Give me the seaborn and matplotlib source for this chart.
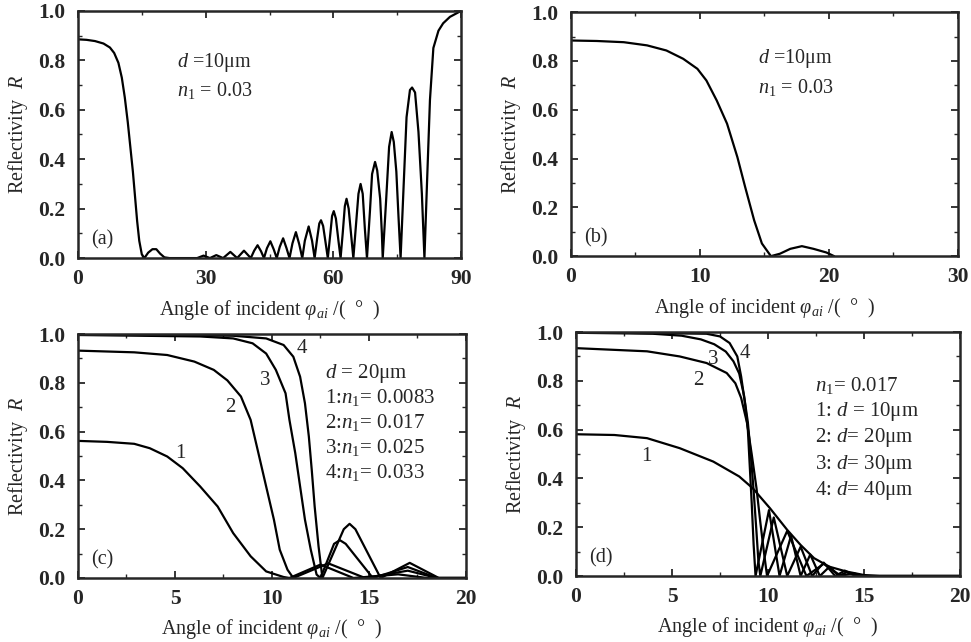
import numpy as np
import pandas as pd
import seaborn as sns
import matplotlib
matplotlib.use("Agg")
import matplotlib.pyplot as plt
from matplotlib.ticker import MultipleLocator, FormatStrFormatter

# ---- panel (a): d = 10 um, n1 = 0.03, full angular range
a_angle = [0, 2, 4, 6, 7.5, 8.5, 9.5, 10.3, 11, 11.7, 12.3, 12.9, 13.4, 13.9, 14.4, 15.0, 15.6,
           16.5, 17.5, 18.4, 19.3, 20.3, 21.5, 26.0, 28.0, 29.5, 31.0, 32.5, 34.1, 35.8, 37.4,
           39.0, 40.6, 41.4, 42.2, 43.0, 43.7, 44.4, 45.2, 46.0, 46.7, 47.4, 48.2, 49.0, 49.7,
           50.4, 51.2, 52.0, 52.7, 53.3, 54.2, 55.0, 55.6,
           56.2, 56.7, 57.1, 57.6, 58.2, 58.7,
           59.3, 59.7, 60.1, 60.6, 61.2, 61.7,
           62.2, 62.7, 63.1, 63.6, 64.2, 64.7,
           65.3, 65.9, 66.4, 66.9, 67.4, 67.9,
           68.6, 69.1, 69.8, 70.3, 71.0, 71.4, 71.6,
           72.4, 73.1, 73.7, 74.2, 74.8, 75.3, 75.8,
           76.5, 77.2, 78.0, 78.5, 79.2, 80.0, 80.8, 81.4,
           82.0, 82.7, 83.5, 84.7, 85.8, 87.4, 90]
a_R = [0.885, 0.883, 0.878, 0.868, 0.852, 0.83, 0.79, 0.73, 0.65, 0.55, 0.45, 0.35, 0.25, 0.15, 0.07,
       0.015, 0.0, 0.022, 0.036, 0.036, 0.018, 0.003, 0.0, 0.0, 0.0, 0.01, 0.0, 0.012, 0.0, 0.025, 0.0,
       0.03, 0.0, 0.03, 0.052, 0.028, 0.0, 0.04, 0.068, 0.035, 0.0, 0.045, 0.08, 0.04, 0.0,
       0.06, 0.105, 0.055, 0.0, 0.07, 0.128, 0.07, 0.0,
       0.08, 0.14, 0.153, 0.13, 0.06, 0.0,
       0.10, 0.17, 0.19, 0.16, 0.07, 0.0,
       0.10, 0.21, 0.24, 0.20, 0.09, 0.0,
       0.13, 0.26, 0.30, 0.26, 0.12, 0.0,
       0.19, 0.34, 0.389, 0.355, 0.24, 0.10, 0.0,
       0.234, 0.45, 0.51, 0.47, 0.35, 0.17, 0.0,
       0.287, 0.57, 0.68, 0.69, 0.67, 0.51, 0.26, 0.0,
       0.3, 0.64, 0.85, 0.92, 0.95, 0.976, 1.0]

# ---- panel (b): same curve, 0-30 deg
b_angle = [0, 2, 4.1, 5.9, 7.4, 8.7, 9.8, 10.5, 11.3, 12.1, 12.9, 13.5, 14.2, 14.8, 15.5,
           16.2, 17.0, 17.9, 18.8, 19.8, 20.4]
b_R = [0.884, 0.882, 0.877, 0.864, 0.843, 0.809, 0.768, 0.72, 0.638, 0.543, 0.406, 0.284,
       0.147, 0.052, 0.0, 0.01, 0.03, 0.041, 0.03, 0.015, 0.0]

# ---- panel (c): d = 20 um, four n1 values
c1_angle = [0, 1.5, 2.9, 3.7, 4.6, 5.4, 6.3, 7.2, 8.0, 8.9, 9.7, 10.6, 10.9, 12.5, 14.2, 16.5, 18.0, 20]
c1_R = [0.562, 0.558, 0.55, 0.532, 0.498, 0.45, 0.375, 0.293, 0.184, 0.089, 0.027, 0.004, 0.0,
        0.055, 0.0, 0.015, 0.0, 0.0]
c2_angle = [0, 2.9, 4.6, 6.0, 7.0, 7.7, 8.4, 8.9, 9.3, 9.7, 10.1, 10.4, 10.8, 11.1, 12.9, 14.8,
            17.0, 18.5, 20]
c2_R = [0.932, 0.925, 0.914, 0.887, 0.853, 0.81, 0.744, 0.648, 0.512, 0.375, 0.239, 0.116, 0.034,
        0.0, 0.06, 0.0, 0.03, 0.0, 0.0]
c3_angle = [0, 6.3, 8.0, 9.0, 9.7, 10.2, 10.7, 10.9, 11.2, 11.45, 11.7, 12.0, 12.3, 12.5, 13.2,
            13.5, 13.8, 15.2, 17.0, 18.5, 20]
c3_R = [0.996, 0.99, 0.982, 0.962, 0.92, 0.853, 0.757, 0.648, 0.512, 0.375, 0.239, 0.116, 0.014,
        0.0, 0.14, 0.155, 0.14, 0.0, 0.045, 0.0, 0.0]
c4_angle = [0, 8.0, 9.7, 10.6, 11.1, 11.45, 11.7, 11.9, 12.05, 12.2, 12.4, 12.6, 13.7, 14.0, 14.3,
            15.6, 17.1, 18.6, 20]
c4_R = [0.999, 0.993, 0.982, 0.955, 0.907, 0.825, 0.716, 0.58, 0.443, 0.293, 0.13, 0.0, 0.2,
        0.222, 0.2, 0.0, 0.062, 0.0, 0.0]

# ---- panel (d): n1 = 0.017, four thicknesses
d1_angle = [0, 2, 3.7, 5.4, 7.15, 8.5, 9.2, 10.1, 11.0, 11.7, 12.4, 13.2, 14.1, 15.0, 15.8, 20]
d1_R = [0.581, 0.578, 0.565, 0.524, 0.469, 0.408, 0.36, 0.278, 0.189, 0.127, 0.073, 0.038,
        0.018, 0.004, 0.0, 0.0]
d2_angle = [0, 3.7, 5.4, 6.8, 7.85, 8.3, 8.6, 8.9, 9.15, 9.4, 9.6, 9.8, 9.95, 11.0, 12.0, 12.9,
            13.8, 14.4, 15.0, 20]
d2_R = [0.934, 0.921, 0.9, 0.873, 0.832, 0.79, 0.73, 0.63, 0.5, 0.36, 0.22, 0.09, 0.0, 0.185,
        0.0, 0.05, 0.0, 0.012, 0.0, 0.0]
d3_angle = [0, 4, 5.5, 6.5, 7.2, 7.8, 8.2, 8.5, 8.75, 8.95, 9.1, 9.25, 9.4, 9.5, 9.6, 10.3, 11.0,
            11.7, 12.3, 12.9, 13.5, 14.0, 14.6, 20]
d3_R = [0.997, 0.993, 0.985, 0.97, 0.95, 0.92, 0.88, 0.83, 0.74, 0.63, 0.5, 0.35, 0.18, 0.06, 0.0,
        0.24, 0.0, 0.12, 0.0, 0.055, 0.0, 0.022, 0.0, 0.0]
d4_angle = [0, 6.8, 7.5, 8.0, 8.4, 8.6, 8.8, 8.95, 9.05, 9.15, 9.25, 9.35, 10.05, 10.6, 11.2,
            11.7, 12.2, 12.7, 13.2, 13.7, 14.1, 14.6, 20]
d4_R = [0.999, 0.993, 0.982, 0.955, 0.9, 0.818, 0.709, 0.6, 0.45, 0.3, 0.13, 0.0, 0.27, 0.0,
        0.165, 0.0, 0.088, 0.0, 0.038, 0.0, 0.016, 0.0, 0.0]


def curves(pairs):
    frames = []
    for name, (x, y) in pairs.items():
        frames.append(pd.DataFrame({"angle": x, "R": y, "curve": name}))
    return pd.concat(frames, ignore_index=True)


sns.set_style("ticks")
plt.rcParams['font.family'] = ['Liberation Serif', 'DejaVu Serif']
plt.rcParams['mathtext.fontset'] = 'custom'
plt.rcParams['mathtext.rm'] = 'Liberation Serif'
plt.rcParams['mathtext.it'] = 'Liberation Serif:italic'
plt.rcParams['mathtext.bf'] = 'Liberation Serif:bold'

fig = plt.figure(figsize=(9.71, 6.42), dpi=100)

panels = [
    # position, data, xmax, xmajor, xminor, label
    ([0.0803, 0.598, 0.3945, 0.385], {"a": (a_angle, a_R)}, 90, 30, 15, "(a)"),
    ([0.588, 0.601, 0.3986, 0.380], {"b": (b_angle, b_R)}, 30, 10, 5, "(b)"),
    ([0.0803, 0.0997, 0.3996, 0.380], {"1": (c1_angle, c1_R), "2": (c2_angle, c2_R),
                                       "3": (c3_angle, c3_R), "4": (c4_angle, c4_R)}, 20, 5, 2.5, "(c)"),
    ([0.5932, 0.1028, 0.3955, 0.380], {"1": (d1_angle, d1_R), "2": (d2_angle, d2_R),
                                       "3": (d3_angle, d3_R), "4": (d4_angle, d4_R)}, 20, 5, 2.5, "(d)"),
]

axes = []
for pos, data, xmax, xmaj, xmin, tag in panels:
    ax = fig.add_axes(pos)
    df = curves(data)
    sns.lineplot(data=df, x="angle", y="R", hue="curve", palette={k: "black" for k in data},
                 sort=False, estimator=None, linewidth=1.6, legend=False, ax=ax)
    ax.set_xlim(0, xmax)
    ax.set_ylim(0, 1.0)
    ax.xaxis.set_major_locator(MultipleLocator(xmaj))
    ax.xaxis.set_minor_locator(MultipleLocator(xmin))
    ax.yaxis.set_major_locator(MultipleLocator(0.2))
    ax.yaxis.set_minor_locator(MultipleLocator(0.1))
    ax.yaxis.set_major_formatter(FormatStrFormatter('%.1f'))
    ax.tick_params(direction='in', top=True, right=True, which='both', labelsize=15.5)
    ax.tick_params(axis='x', pad=8)
    ax.tick_params(axis='y', pad=9)
    ax.tick_params(which='major', length=5, width=1.3)
    ax.tick_params(which='minor', length=3, width=1.0)
    for lbl in ax.get_xticklabels() + ax.get_yticklabels():
        lbl.set_fontweight('bold')
    for s in ax.spines.values():
        s.set_linewidth(1.8)
    ax.set_xlabel(r"Angle of incident $\varphi_{ai}$ /(  °  )", fontsize=14.5, labelpad=6)
    ax.set_ylabel(r"Reflectivity  $R$", fontsize=14.5, labelpad=6)
    ax.text(0.035, 0.055, tag, transform=ax.transAxes, fontsize=14.5)
    axes.append(ax)

ax_a, ax_b, ax_c, ax_d = axes

ax_a.text(23.2, 0.79, r"$d$ =10μm", fontsize=14.5, va="center")
ax_a.text(23.2, 0.68, r"$n_1$ = 0.03", fontsize=14.5, va="center")
ax_b.text(14.5, 0.81, r"$d$ =10μm", fontsize=14.5, va="center")
ax_b.text(14.5, 0.69, r"$n_1$ = 0.03", fontsize=14.5, va="center")

c_lines = [r"$d$ = 20μm", r"1:$n_1$= 0.0083", r"2:$n_1$= 0.017", r"3:$n_1$= 0.025", r"4:$n_1$= 0.033"]
for i, t in enumerate(c_lines):
    ax_c.text(12.75, 0.84 - i * 0.102, t, fontsize=15, va="center")
for lab, x, y in [("1", 5.27, 0.51), ("2", 7.84, 0.70), ("3", 9.65, 0.81), ("4", 11.54, 0.94)]:
    ax_c.text(x, y, lab, fontsize=15, ha="center", va="center")

d_lines = [r"$n_1$= 0.017", r"1: $d$ = 10μm", r"2: $d$= 20μm", r"3: $d$= 30μm", r"4: $d$= 40μm"]
for i, t in enumerate(d_lines):
    ax_d.text(12.45, 0.78 - i * 0.107, t, fontsize=15, va="center")
for lab, x, y in [("1", 3.68, 0.49), ("2", 6.37, 0.80), ("3", 7.15, 0.886), ("4", 8.8, 0.914)]:
    ax_d.text(x, y, lab, fontsize=15, ha="center", va="center")

fig.savefig("out.png", dpi=100)
